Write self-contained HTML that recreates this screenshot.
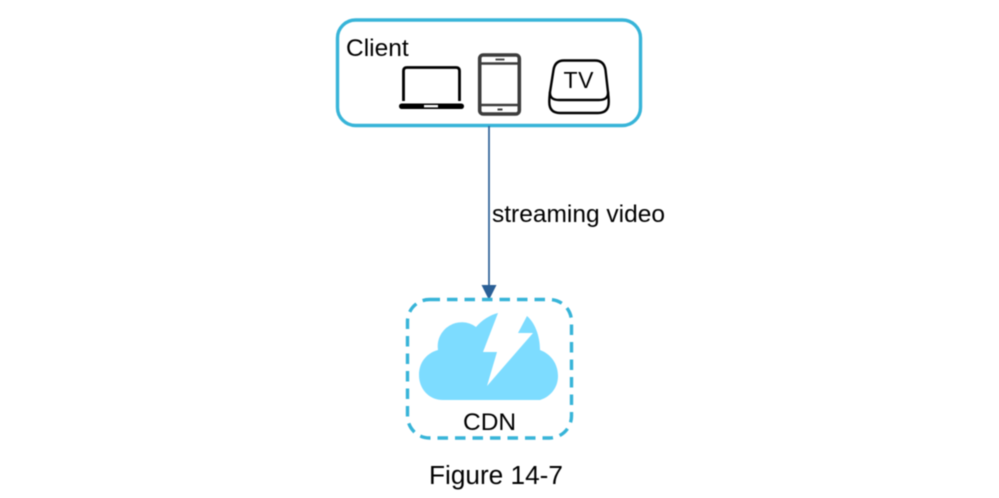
<!DOCTYPE html>
<html>
<head>
<meta charset="utf-8">
<style>
html,body{margin:0;padding:0;background:#fff;width:999px;height:498px;overflow:hidden}
svg{display:block;filter:blur(0.4px)}
text{font-family:"Liberation Sans",Arial,sans-serif;fill:#000}
</style>
</head>
<body>
<svg width="999" height="498" viewBox="0 0 999 498" xmlns="http://www.w3.org/2000/svg">
<!-- Client box -->
<rect x="337.5" y="20" width="303" height="105.5" rx="18" ry="18" fill="#fff" stroke="#37b4d8" stroke-width="3.4"/>
<text x="346" y="56" font-size="24.5">Client</text>

<!-- Laptop -->
<path d="M403.5 101 V71 Q403.5 67.5 407 67.5 H456 Q459.5 67.5 459.5 71 V101" fill="none" stroke="#000" stroke-width="2.8"/>
<rect x="399" y="103.5" width="65" height="5.5" rx="2.7" fill="#000"/>
<rect x="424" y="105" width="14" height="2.4" fill="#fff"/>

<!-- Tablet -->
<rect x="479.7" y="55" width="39.6" height="59" rx="3.5" fill="#fff" stroke="#3c3c3c" stroke-width="3.6"/>
<path d="M480 63.5 H519 M480 105 H519" stroke="#3c3c3c" stroke-width="2.4" fill="none"/>
<rect x="495.5" y="58.6" width="9" height="1.8" fill="#3c3c3c"/>
<rect x="497.5" y="108.5" width="5" height="2" fill="#3c3c3c"/>

<!-- TV box -->
<path d="M550 92 Q549.3 98 549.3 102 Q549.3 113 560 113 H598 Q608.7 113 608.7 102 Q608.7 98 608 92" fill="none" stroke="#000" stroke-width="2.4"/>
<path d="M550 92 L553.5 70 Q555 60.5 564 60.5 H595 Q604 60.5 605.5 70 L608 92 Q608.5 100 599 100 H559 Q549.5 100 550 92 Z" fill="#fff" stroke="#000" stroke-width="2.4"/>
<text x="563.5" y="88" font-size="23" letter-spacing="0.6">TV</text>

<!-- Arrow -->
<line x1="489" y1="126" x2="489" y2="287" stroke="#2a5f96" stroke-width="1.7"/>
<polygon points="481.5,285 496.5,285 489,300" fill="#2a5f96"/>
<text x="492" y="222" font-size="24.5">streaming video</text>

<!-- CDN box -->
<rect x="407.5" y="299.5" width="164" height="138.5" rx="22" ry="22" fill="none" stroke="#37b4d8" stroke-width="3.4" stroke-dasharray="10.5 7"/>

<!-- Cloud -->
<path d="M443 400 C429 400 419 389 419 375 C419 362 427 353 438 350 A24 24 0 0 1 476 327 C482 320 490 315 498 313 L483 352 L497 352 L487 386 L533 333 L518 333 L527 316 C535 323 540 336 540 350 C551 354 558 364 558 376 C558 388 550 397 540 400 Z" fill="#7ddcff"/>
<text x="463" y="430" font-size="24.5">CDN</text>

<text x="429" y="484" font-size="26.2">Figure 14-7</text>
</svg>
</body>
</html>
